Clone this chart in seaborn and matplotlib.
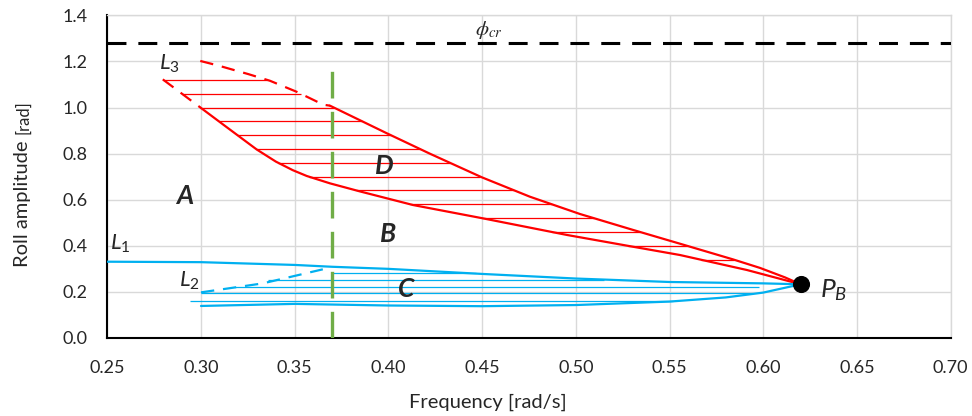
import numpy as np
import seaborn as sns
import matplotlib.pyplot as plt

# red branch, upper side (dashed near L3, solid down to P_B)
red_up_dash_f = [0.2996, 0.3092, 0.3252, 0.3368, 0.3511, 0.3653, 0.3688]
red_up_dash_v = [1.202, 1.182, 1.145, 1.116, 1.068, 1.012, 1.008]
red_up_f = [0.3688, 0.3992, 0.4223, 0.4499, 0.4755, 0.5022, 0.5305, 0.5556, 0.5839, 0.5983, 0.6116, 0.620]
red_up_v = [1.008, 0.888, 0.799, 0.697, 0.613, 0.538, 0.469, 0.409, 0.341, 0.304, 0.263, 0.233]

# red branch, lower side
red_lo_dash_f = [0.2796, 0.2995]
red_lo_dash_v = [1.122, 1.001]
red_lo_f = [0.2995, 0.3120, 0.3297, 0.3400, 0.3490, 0.3564, 0.3688, 0.3848, 0.4131, 0.4505,
            0.4953, 0.5305, 0.5556, 0.5913, 0.620]
red_lo_v = [1.001, 0.925, 0.818, 0.765, 0.728, 0.703, 0.671, 0.636, 0.577, 0.519,
            0.447, 0.396, 0.360, 0.295, 0.233]

# red hatching levels
red_hatch_v = [1.12, 1.06, 1.00, 0.94, 0.88, 0.82, 0.76, 0.70, 0.64, 0.58, 0.52, 0.46, 0.40, 0.34]

# blue curves
l1_f = [0.25, 0.30, 0.35, 0.37, 0.40, 0.45, 0.50, 0.55, 0.60, 0.62]
l1_v = [0.331, 0.329, 0.317, 0.309, 0.300, 0.278, 0.258, 0.243, 0.237, 0.233]
l2_f = [0.300, 0.333, 0.365]
l2_v = [0.198, 0.237, 0.298]
blue_lo_f = [0.30, 0.35, 0.40, 0.45, 0.50, 0.55, 0.58, 0.60, 0.62]
blue_lo_v = [0.139, 0.148, 0.141, 0.138, 0.143, 0.158, 0.176, 0.197, 0.233]

# blue hatching
blue_hatch_v = [0.281, 0.252, 0.220, 0.194, 0.162]
blue_hatch_start = [0.370, 0.336, 0.318, 0.300, 0.294]
blue_hatch_end = [0.447, 0.515, 0.598, 0.594, 0.552]

pb_f, pb_v = 0.62, 0.233
phi_cr = 1.28
f_green = 0.37
green_v = [0.0, 1.16]

x_ticks = [0.25, 0.30, 0.35, 0.40, 0.45, 0.50, 0.55, 0.60, 0.65, 0.70]
y_ticks = [0.0, 0.2, 0.4, 0.6, 0.8, 1.0, 1.2, 1.4]

RED = "#FF0000"
BLUE = "#00B0F0"
GREEN = "#70AD47"

sns.set_style("whitegrid")
plt.rcParams["font.family"] = ["Lato", "DejaVu Sans"]
plt.rcParams["mathtext.fontset"] = "custom"
plt.rcParams["mathtext.rm"] = "Lato"
plt.rcParams["mathtext.it"] = "Lato:italic"
plt.rcParams["mathtext.bf"] = "Lato:bold"

fig, ax = plt.subplots(figsize=(9.72, 4.16), dpi=100)
fig.subplots_adjust(left=0.1104, right=0.978, top=0.9632, bottom=0.1875)

# hatching (red region between branches)
up_all_f = red_up_dash_f + red_up_f[1:]
up_all_v = red_up_dash_v + red_up_v[1:]
lo_all_f = red_lo_dash_f + red_lo_f[1:]
lo_all_v = red_lo_dash_v + red_lo_v[1:]
h_left = np.interp(red_hatch_v, lo_all_v[::-1], lo_all_f[::-1])
h_right = np.interp(red_hatch_v, up_all_v[::-1], up_all_f[::-1])
ax.hlines(red_hatch_v, h_left, h_right, colors=RED, lw=0.9, zorder=2)
ax.hlines(blue_hatch_v, blue_hatch_start, blue_hatch_end, colors=BLUE, lw=0.9, zorder=2)

line_kw = dict(ax=ax, sort=False, estimator=None, lw=1.6, zorder=3)
sns.lineplot(x=red_up_dash_f, y=red_up_dash_v, color=RED, linestyle=(0, (6, 4)), **line_kw)
sns.lineplot(x=red_up_f, y=red_up_v, color=RED, **line_kw)
sns.lineplot(x=red_lo_dash_f, y=red_lo_dash_v, color=RED, linestyle=(0, (6, 4)), **line_kw)
sns.lineplot(x=red_lo_f, y=red_lo_v, color=RED, **line_kw)

sns.lineplot(x=l1_f, y=l1_v, color=BLUE, **line_kw)
sns.lineplot(x=l2_f, y=l2_v, color=BLUE, linestyle=(0, (6, 4)), **line_kw)
sns.lineplot(x=blue_lo_f, y=blue_lo_v, color=BLUE, **line_kw)

# critical roll angle and the vertical marker
ax.axhline(phi_cr, color="black", lw=2.2, linestyle=(0, (6.2, 3.9)), zorder=3)
ax.plot([f_green, f_green], green_v, color=GREEN, lw=2.4, linestyle=(0, (8, 4)), zorder=4)

sns.scatterplot(x=[pb_f], y=[pb_v], ax=ax, color="black", s=130, zorder=6, edgecolor="black")

# annotations
ax.text(0.2775, 1.19, r"$L_3$", fontsize=16, ha="left", va="center")
ax.text(0.2515, 0.41, r"$L_1$", fontsize=16, ha="left", va="center")
ax.text(0.2885, 0.25, r"$L_2$", fontsize=16, ha="left", va="center")
ax.text(0.6305, 0.21, r"$P_B$", fontsize=19, ha="left", va="center")
ax.text(0.446, 1.335, r"$\phi_{cr}$", fontsize=15, ha="left", va="center",
        math_fontfamily="stix")
for lab, fx, vy in [("A", 0.291, 0.616), ("D", 0.398, 0.746),
                    ("B", 0.400, 0.451), ("C", 0.4095, 0.213)]:
    ax.text(fx, vy, lab, fontsize=19, fontweight="bold", fontstyle="italic",
            ha="center", va="center", zorder=5)

ax.set_xlim(0.25, 0.70)
ax.set_ylim(0.0, 1.4)
ax.set_xticks(x_ticks)
ax.set_xticklabels([f"{t:.2f}" for t in x_ticks])
ax.set_yticks(y_ticks)
ax.set_yticklabels([f"{t:.1f}" for t in y_ticks])
ax.tick_params(length=0, labelsize=13, labelcolor="#262626")
ax.tick_params(axis="x", pad=16)
ax.tick_params(axis="y", pad=14.5)
ax.grid(True, color="#d9d9d9", lw=1)
ax.set_xlabel("")
ax.set_ylabel("")

for side in ["left", "bottom"]:
    ax.spines[side].set_color("black")
    ax.spines[side].set_linewidth(1.5)
for side in ["top", "right"]:
    ax.spines[side].set_color("#d9d9d9")
    ax.spines[side].set_linewidth(1)

fig.text(0.502, 0.034, "Frequency [rad/s]", ha="center", va="center", fontsize=14.5)
fig.text(0.0288, 0.358, "Roll amplitude", rotation=90, rotation_mode="anchor",
         ha="left", va="baseline", fontsize=14.5)
fig.text(0.0288, 0.678, "[rad]", rotation=90, rotation_mode="anchor",
         ha="left", va="baseline", fontsize=12)

fig.savefig("out.png", dpi=100)
